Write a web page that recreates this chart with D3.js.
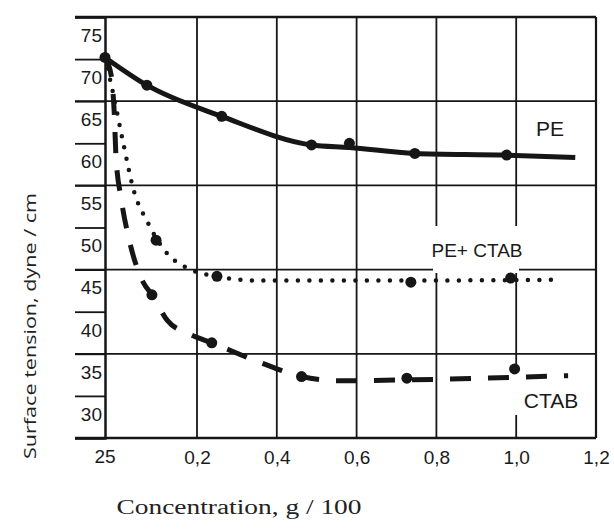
<!DOCTYPE html>
<html>
<head>
<meta charset="utf-8">
<script src="https://cdn.jsdelivr.net/npm/d3@7"></script>
<style>
    body { margin: 0; background: #fff; }
    svg { display: block; }
    .tick text { font-family: "Liberation Sans", Arial, sans-serif; font-size: 19px; fill: #1a1a1a; }
    .lbl { font-family: "Liberation Sans", Arial, sans-serif; fill: #1a1a1a; }
</style>
</head>
<body>
<svg id="chart" width="614" height="529"></svg>
<script>
// ticks
let y_ticks = [75, 70, 65, 60, 55, 50, 45, 40, 35, 30, 25];
let y_grid = [65, 55, 45, 35];
let x_ticks = [0.2, 0.4, 0.6, 0.8, 1.0, 1.2];

// PE (solid)
let pe_x = [0, 0.091, 0.262, 0.487, 0.582, 0.746, 0.976];
let pe_y = [70.2, 66.9, 63.2, 59.8, 60.0, 58.8, 58.6];
let pe_line_x = [0, 0.091, 0.262, 0.487, 0.582, 0.746, 0.976, 1.148];
let pe_line_y = [70.2, 66.9, 63.2, 59.8, 59.5, 58.8, 58.6, 58.3];

// PE + CTAB (dotted)
let mix_x = [0.111, 0.25, 0.736, 0.986];
let mix_y = [48.5, 44.2, 43.5, 44.0];
let mix_line_x = [0, 0.017, 0.039, 0.063, 0.093, 0.113, 0.137, 0.178, 0.25, 0.357, 0.736, 1.113];
let mix_line_y = [70.2, 66.1, 60.2, 54.3, 50.6, 48.6, 46.8, 45.2, 44.2, 43.7, 43.7, 43.8];

// CTAB (dashed)
let ctab_x = [0.102, 0.237, 0.462, 0.726, 0.996];
let ctab_y = [42.0, 36.3, 32.3, 32.1, 33.2];
let ctab_line_x = [0, 0.013, 0.020, 0.024, 0.035, 0.054, 0.083, 0.104, 0.135, 0.185, 0.237, 0.357, 0.462, 0.557, 0.726, 1.130];
let ctab_line_y = [70.2, 68.2, 63.7, 58.3, 53.5, 48.2, 43.5, 41.9, 39.0, 37.3, 36.3, 34.0, 32.3, 31.8, 31.9, 32.4];

let ink = '#161616';

function zip(xs, ys) {
    return xs.map((d, i) => ({x: d, y: ys[i]}));
}

function draw() {
    let svg = d3.select('#chart');

    // hand drawn grid: first cell is wider than the others
    let x = d3.scaleLinear().domain([0, 0.2, 1.2]).range([105, 197, 596]);
    let y = d3.scaleLinear().domain([25, 75]).range([438, 17]);

    let g = svg.append('g');

    // full horizontal grid lines
    g.selectAll('.hgrid')
        .data(y_grid)
        .enter()
        .append('line')
        .attr('x1', 75).attr('x2', x(1.2))
        .attr('y1', d => y(d)).attr('y2', d => y(d))
        .attr('stroke', ink).attr('stroke-width', 1.8);

    // vertical grid lines
    g.selectAll('.vgrid')
        .data(x_ticks.slice(0, -1))
        .enter()
        .append('line')
        .attr('x1', d => x(d)).attr('x2', d => x(d))
        .attr('y1', y(75)).attr('y2', y(25))
        .attr('stroke', ink).attr('stroke-width', 1.8);

    // frame
    g.append('line')
        .attr('x1', 75).attr('x2', x(1.2))
        .attr('y1', y(75)).attr('y2', y(75))
        .attr('stroke', ink).attr('stroke-width', 2.5);
    g.append('line')
        .attr('x1', x(1.2)).attr('x2', x(1.2))
        .attr('y1', y(75)).attr('y2', y(25))
        .attr('stroke', ink).attr('stroke-width', 2.2);
    g.append('line')
        .attr('x1', 75).attr('x2', x(1.2))
        .attr('y1', y(25)).attr('y2', y(25))
        .attr('stroke', ink).attr('stroke-width', 2.5);

    // y axis: ticks stick out to the left, labels hang below the tick
    let yAxis = d3.axisLeft(y).tickValues(y_ticks).tickSize(30).tickFormat(d3.format('d'));
    let ya = svg.append('g')
        .attr('transform', 'translate(' + x(0) + ',0)')
        .call(yAxis);
    ya.select('.domain').attr('stroke', ink).attr('stroke-width', 2.5);
    ya.selectAll('.tick line').attr('stroke', ink).attr('stroke-width', 1.8);
    ya.selectAll('.tick text')
        .attr('x', d => d == 25 ? 0 : -3)
        .attr('text-anchor', d => d == 25 ? 'middle' : 'end')
        .attr('dy', '1.28em');

    // x axis labels
    let xAxis = d3.axisBottom(x).tickValues(x_ticks).tickSize(0)
        .tickFormat(d => d3.format('.1f')(d).replace('.', ','));
    let xa = svg.append('g')
        .attr('transform', 'translate(0,' + y(25) + ')')
        .call(xAxis);
    xa.select('.domain').remove();
    xa.selectAll('.tick text').attr('y', 13);

    // white boxes where the grid is broken for the curve labels
    svg.append('rect').attr('x', 433).attr('y', 226).attr('width', 86).attr('height', 47).attr('fill', '#fff');
    svg.append('rect').attr('x', 511).attr('y', 372).attr('width', 80).attr('height', 43).attr('fill', '#fff');

    // curve labels
    svg.append('text').attr('class', 'lbl').attr('x', 550).attr('y', 136)
        .attr('text-anchor', 'middle').style('font-size', '21px').text('PE');
    svg.append('text').attr('class', 'lbl').attr('x', 477).attr('y', 257)
        .attr('text-anchor', 'middle').style('font-size', '19px').text('PE+ CTAB');
    svg.append('text').attr('class', 'lbl').attr('x', 551).attr('y', 408)
        .attr('text-anchor', 'middle').style('font-size', '21px').text('CTAB');

    let line = d3.line()
        .x(d => x(d.x))
        .y(d => y(d.y))
        .curve(d3.curveMonotoneX);

    // PE solid
    svg.append('path')
        .datum(zip(pe_line_x, pe_line_y))
        .attr('d', line)
        .attr('fill', 'none').attr('stroke', ink).attr('stroke-width', 5);

    // PE + CTAB dotted
    svg.append('path')
        .datum(zip(mix_line_x, mix_line_y))
        .attr('d', line)
        .attr('fill', 'none').attr('stroke', ink).attr('stroke-width', 4.5)
        .attr('stroke-linecap', 'round').attr('stroke-dasharray', '0 11.5');

    // CTAB dashed
    svg.append('path')
        .datum(zip(ctab_line_x, ctab_line_y))
        .attr('d', line)
        .attr('fill', 'none').attr('stroke', ink).attr('stroke-width', 5)
        .attr('stroke-dasharray', '21 17');

    // markers
    let pts = zip(pe_x, pe_y).concat(zip(mix_x, mix_y)).concat(zip(ctab_x, ctab_y));
    svg.selectAll('.dot')
        .data(pts)
        .enter()
        .append('circle')
        .attr('cx', d => x(d.x))
        .attr('cy', d => y(d.y))
        .attr('r', 5.5)
        .attr('fill', ink);

    // axis titles
    svg.append('text')
        .attr('transform', 'translate(36,326) rotate(-90)')
        .attr('text-anchor', 'middle')
        .attr('textLength', 266).attr('lengthAdjust', 'spacingAndGlyphs')
        .style('font-family', '"Open Sans", sans-serif').style('font-size', '17px').style('fill', '#222')
        .text('Surface tension, dyne / cm');
    svg.append('text')
        .attr('x', 239).attr('y', 514)
        .attr('text-anchor', 'middle')
        .attr('textLength', 245).attr('lengthAdjust', 'spacingAndGlyphs')
        .style('font-family', '"Liberation Serif", serif').style('font-size', '20px').style('fill', '#222')
        .text('Concentration, g / 100');
}

draw();
</script>
</body>
</html>
